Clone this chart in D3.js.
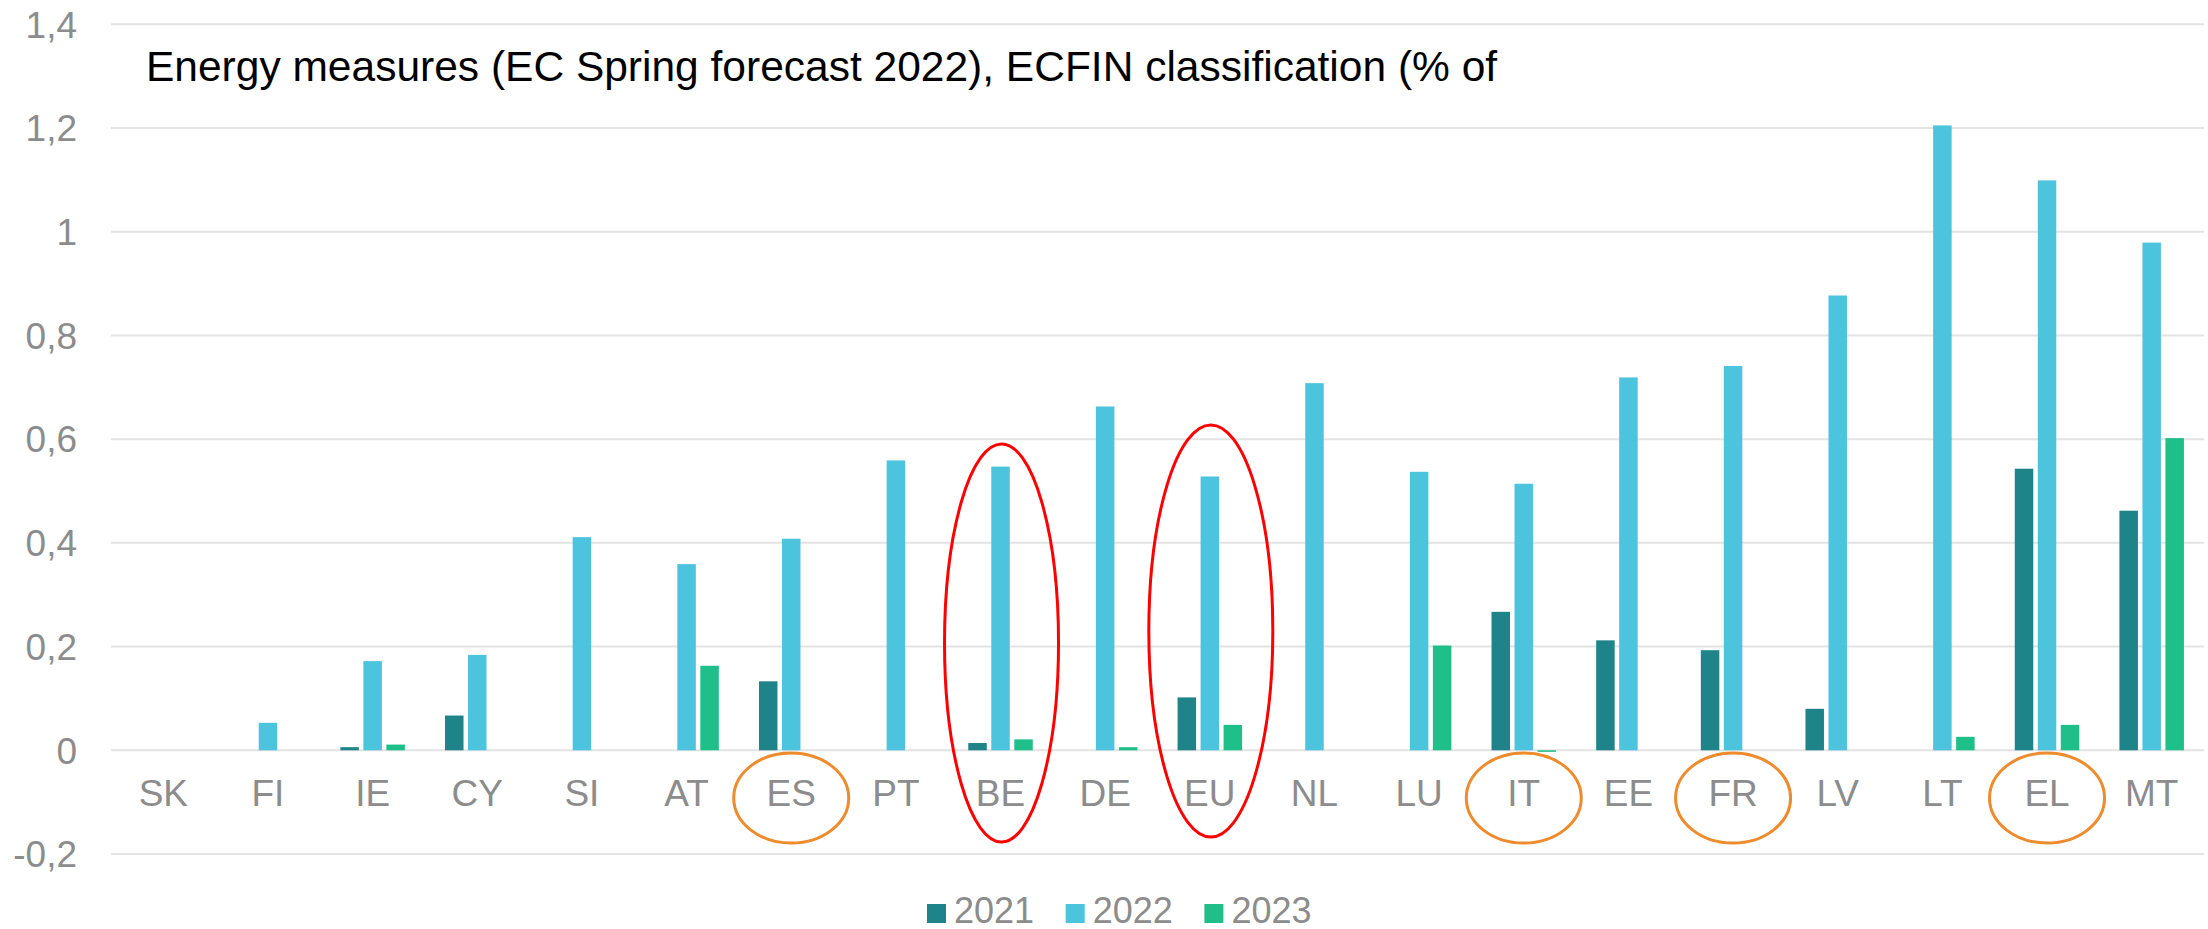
<!DOCTYPE html>
<html>
<head>
<meta charset="utf-8">
<script src="https://cdn.jsdelivr.net/npm/d3@7"></script>
<style>
  html, body { margin: 0; padding: 0; background: #ffffff; }
  svg { display: block; font-family: "Liberation Sans", Arial, sans-serif; }
</style>
</head>
<body>
<svg id="chart" width="2208" height="929"></svg>
<script>
// Energy measures by country, % of GDP
const countries = ["SK","FI","IE","CY","SI","AT","ES","PT","BE","DE","EU","NL","LU","IT","EE","FR","LV","LT","EL","MT"];
const years = ["2021","2022","2023"];
const v2021 = [0, 0, 0.006, 0.067, 0, 0, 0.133, 0, 0.014, 0, 0.102, 0, 0, 0.267, 0.212, 0.193, 0.080, 0, 0.543, 0.462];
const v2022 = [0, 0.053, 0.172, 0.184, 0.411, 0.359, 0.408, 0.559, 0.547, 0.663, 0.528, 0.708, 0.537, 0.514, 0.719, 0.741, 0.877, 1.205, 1.099, 0.979];
const v2023 = [0, 0, 0.011, 0, 0, 0.163, 0, 0, 0.021, 0.006, 0.049, 0, 0.202, -0.003, 0, 0, 0, 0.026, 0.049, 0.602];
const yTicks = [-0.2, 0, 0.2, 0.4, 0.6, 0.8, 1, 1.2, 1.4];
const titleText = "Energy measures (EC Spring forecast 2022), ECFIN classification (% of";
const redCircled = ["BE", "EU"];
const orangeCircled = ["ES", "IT", "FR", "EL"];

const colors = { "2021": "#1e8489", "2022": "#4cc4de", "2023": "#1ebf89" };
const seriesValues = { "2021": v2021, "2022": v2022, "2023": v2023 };

const svg = d3.select("#chart");
const plot = { left: 111, right: 2204, top: 24.3, bottom: 854 };

const x = d3.scaleBand().domain(countries).range([plot.left, plot.right]).padding(0);
const y = d3.scaleLinear().domain([-0.2, 1.4]).range([plot.bottom, plot.top]);
const xInner = d3.scaleBand().domain(years)
  .range([x.bandwidth() / 2 - 32.25, x.bandwidth() / 2 + 32.25])
  .paddingInner(0.196).paddingOuter(0);

const fmt = v => d3.format("")(+v.toFixed(1)).replace(".", ",").replace("\u2212", "-");

// horizontal gridlines
svg.append("g")
  .selectAll("line")
  .data(yTicks)
  .join("line")
  .attr("x1", plot.left).attr("x2", plot.right)
  .attr("y1", d => y(d)).attr("y2", d => y(d))
  .attr("stroke", "#e3e3e3").attr("stroke-width", 2);

// y tick labels
svg.append("g")
  .selectAll("text")
  .data(yTicks)
  .join("text")
  .attr("x", 77).attr("y", d => y(d))
  .attr("dy", "0.36em")
  .attr("text-anchor", "end")
  .attr("font-size", 37)
  .attr("fill", "#8c8c8c")
  .text(d => fmt(d));

// bars
const rows = [];
countries.forEach((c, i) => years.forEach(yr => rows.push({ c, yr, v: seriesValues[yr][i] })));
svg.append("g")
  .selectAll("rect")
  .data(rows.filter(d => d.v !== 0))
  .join("rect")
  .attr("x", d => x(d.c) + xInner(d.yr))
  .attr("width", xInner.bandwidth())
  .attr("y", d => y(Math.max(0, d.v)))
  .attr("height", d => Math.abs(y(d.v) - y(0)))
  .attr("fill", d => colors[d.yr]);

// category labels
svg.append("g")
  .selectAll("text")
  .data(countries)
  .join("text")
  .attr("x", d => x(d) + x.bandwidth() / 2)
  .attr("y", 806)
  .attr("text-anchor", "middle")
  .attr("font-size", 37)
  .attr("fill", "#8c8c8c")
  .text(d => d);

// title
svg.append("text")
  .attr("x", 146).attr("y", 81)
  .attr("font-size", 42.5)
  .attr("fill", "#000000")
  .text(titleText);

// highlight ellipses around whole country groups
svg.append("g")
  .selectAll("ellipse")
  .data(redCircled)
  .join("ellipse")
  .attr("cx", d => x(d) + x.bandwidth() / 2 + 1)
  .attr("cy", (d, i) => i === 0 ? 643 : 631)
  .attr("rx", (d, i) => i === 0 ? 57 : 62)
  .attr("ry", (d, i) => i === 0 ? 199 : 206)
  .attr("fill", "none")
  .attr("stroke", "#ff0000")
  .attr("stroke-width", 3);

// highlight ellipses around country labels
svg.append("g")
  .selectAll("ellipse")
  .data(orangeCircled)
  .join("ellipse")
  .attr("cx", d => x(d) + x.bandwidth() / 2)
  .attr("cy", 798)
  .attr("rx", 57.5)
  .attr("ry", 45)
  .attr("fill", "none")
  .attr("stroke", "#ed8b2d")
  .attr("stroke-width", 3);

// legend
const legend = svg.append("g")
  .selectAll("g")
  .data(years)
  .join("g")
  .attr("transform", (d, i) => `translate(${927 + i * 138.7},904)`);
legend.append("rect")
  .attr("width", 19).attr("height", 19)
  .attr("fill", d => colors[d]);
legend.append("text")
  .attr("x", 27).attr("y", 19)
  .attr("font-size", 36)
  .attr("fill", "#8c8c8c")
  .text(d => d);
</script>
</body>
</html>
